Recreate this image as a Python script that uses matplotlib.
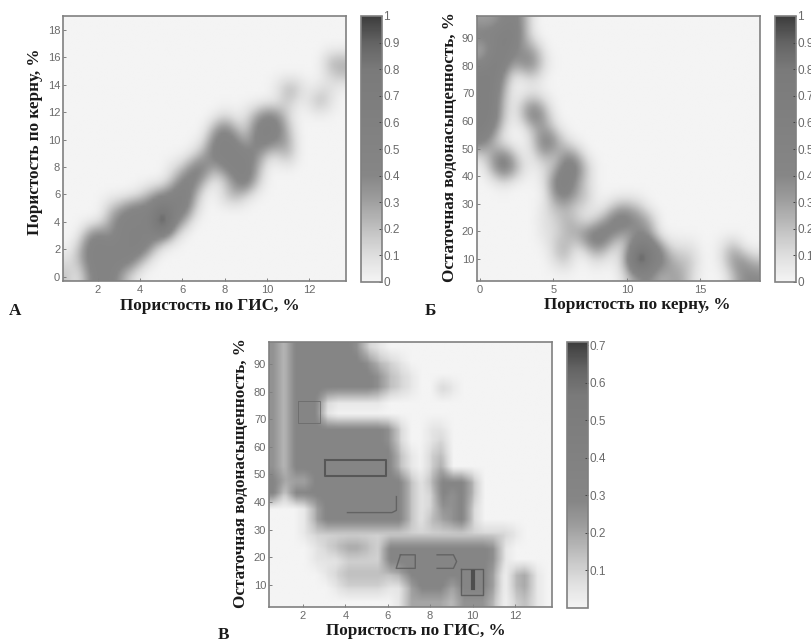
# Three density maps of porosity / water saturation
import matplotlib
matplotlib.use('Agg')
import matplotlib.pyplot as plt
import numpy as np
from matplotlib.colors import LinearSegmentedColormap

W, H = 812, 641
SERIF = 'Liberation Serif'
SANS = 'Liberation Sans'
TICK_GREY = '#6a6a6a'
FRAME_GREY = '#808080'

# density grids, one hex digit per cell, top row first, short rows end in zeros
a_rows = [
    "",
    "",
    "",
    "00000 00000 00000 00000 00000 33",
    "00000 00000 00000 00000 00000 12",
    "00000 00000 00000 00000 13201 1",
    "00000 00000 00000 00000 02013 1",
    "00000 00000 00000 10135 41000",
    "00000 00000 00003 52155 52000",
    "00000 00000 00015 55255 43000",
    "00000 00000 00135 55541 13000",
    "00000 00000 12552 55530",
    "00000 00000 25520 14620",
    "00000 00134 56300 23100",
    "00002 35558 56200",
    "00003 5555f 53000",
    "00453 55555 20000",
    "02555 55630",
    "12555 55200",
    "20455 31000",
]
b_rows = [
    "33453",
    "55663",
    "24643 30000",
    "46635 41000",
    "66401 20000",
    "66300",
    "66202 31000",
    "66203 63000",
    "65100 23100",
    "52000 26410",
    "13520 13143",
    "03641 01265 20000",
    "00100 01563 10000",
    "00000 00453 20000",
    "00000 01221 10133 20000",
    "00000 01132 02465 43000",
    "00000 01123 56532 43000",
    "00000 00230 24203 87411 10013",
    "00000 00120 01014 f7532 20014 42",
    "00000 00000 00002 34233 10002 44",
]
c_rows = [
    "53666 66652 1",
    "53666 66665 3210",
    "53666 66666 53210",
    "53666 66666 53210 02100",
    "53666 21111 1",
    "53666 10000",
    "53666 66666 65200 11",
    "53666 66666 65200 12",
    "53666 66666 66310 23",
    "53666 66666 66310 24",
    "64446 66666 66631 36663",
    "62666 66666 66631 26563",
    "00014 66666 66631 25562",
    "00014 66666 66631 34562",
    "00012 22222 22222 22222 22210",
    "00001 23443 26666 66666 65100",
    "00001 11222 26666 66666 65100",
    "00000 12333 33466 66666 64034 1",
    "00000 01222 21146 66466 64034 1",
    "00000 00000 00144 44355 53023 1",
]
a_scale, b_scale, c_scale = 0.1, 0.1, 0.05

# dark iso-lines of the lower map, in axis units
c_ring1_x = [3.02, 5.94, 5.94, 3.02, 3.02]
c_ring1_y = [55.1, 55.1, 49.3, 49.3, 55.1]
c_ring2_x = [6.41, 6.41, 6.2, 4.1]
c_ring2_y = [42.0, 37.0, 36.2, 36.2]
c_ring3_x = [1.76, 2.79, 2.79, 1.76, 1.76]
c_ring3_y = [76.5, 76.5, 68.6, 68.6, 76.5]
c_ring4_x = [6.6, 7.3, 7.3, 6.4, 6.6]
c_ring4_y = [20.9, 20.9, 16.0, 16.0, 20.9]
c_ring5_x = [8.33, 9.1, 9.25, 9.1, 8.33]
c_ring5_y = [20.9, 20.9, 18.5, 16.0, 16.0]
c_ring6_x = [9.48, 10.5, 10.5, 9.48, 9.48]
c_ring6_y = [15.7, 15.7, 6.4, 6.4, 15.7]
c_spot_x = [10.0, 10.0]
c_spot_y = [9.0, 14.5]

a_xticks = [2, 4, 6, 8, 10, 12]
a_yticks = [0, 2, 4, 6, 8, 10, 12, 14, 16, 18]
b_xticks = [0, 5, 10, 15]
sw_yticks = [10, 20, 30, 40, 50, 60, 70, 80, 90]
c_xticks = [2, 4, 6, 8, 10, 12]
cb_ticks = [0, 0.1, 0.2, 0.3, 0.4, 0.5, 0.6, 0.7, 0.8, 0.9, 1]
cb_labels = ['0', '0.1', '0.2', '0.3', '0.4', '0.5', '0.6', '0.7', '0.8', '0.9', '1']
c_cb_ticks = [0.1, 0.2, 0.3, 0.4, 0.5, 0.6, 0.7]
c_cb_labels = ['0.1', '0.2', '0.3', '0.4', '0.5', '0.6', '0.7']

xlabel_gis = 'Пористость по ГИС, %'
xlabel_core = 'Пористость по керну, %'
ylabel_sw = 'Остаточная водонасыщенность, %'

# grey levels seen on the colorbars
grey = LinearSegmentedColormap.from_list('grey_map', [
    (0.0, '#f4f4f4'), (0.1, '#dedede'), (0.2, '#c0c0c0'), (0.3, '#a0a0a0'),
    (0.4, '#868686'), (0.8, '#7a7a7a'), (0.9, '#646464'), (1.0, '#3c3c3c')])


def parse(rows, scale):
    cells = [r.replace(' ', '').ljust(27, '0') for r in rows]
    return np.array([[int(c, 16) for c in r] for r in cells]) * scale


def soften(data, passes):
    # 4x finer grid, then repeated box blur so the blobs have soft edges
    fine = np.kron(data, np.ones((4, 4)))
    kernel = np.ones(5) / 5
    for i in range(passes):
        for axis in (0, 1):
            pad = [(2, 2) if k == axis else (0, 0) for k in range(2)]
            padded = np.pad(fine, pad, mode='edge')
            fine = np.apply_along_axis(lambda v: np.convolve(v, kernel, mode='valid'), axis, padded)
    return fine


def box(left, top, right, bottom):
    # pixel box to figure fractions
    return [left / W, 1 - bottom / H, (right - left) / W, (bottom - top) / H]


def panel(fig, data, extent, vmax, px, cb_px, xticks, yticks, ticks, labels):
    ax = fig.add_axes(box(*px))
    im = ax.imshow(data, extent=extent, aspect='auto', cmap=grey, vmin=0, vmax=vmax,
                   interpolation='bilinear')
    ax.set_xticks(xticks)
    ax.set_yticks(yticks)
    for s in ax.spines.values():
        s.set_color(FRAME_GREY)
        s.set_linewidth(1.2)
    ax.tick_params(labelsize=8, labelcolor=TICK_GREY, color=FRAME_GREY, length=2,
                   direction='in', width=0.7)
    ax.tick_params(axis='x', pad=3)
    ax.tick_params(axis='y', pad=2)
    for t in ax.get_xticklabels() + ax.get_yticklabels():
        t.set_fontfamily(SANS)
    cax = fig.add_axes(box(*cb_px))
    cb = fig.colorbar(im, cax=cax)
    cb.set_ticks(ticks)
    cb.set_ticklabels(labels)
    cb.outline.set_edgecolor(FRAME_GREY)
    cb.outline.set_linewidth(1.2)
    cax.tick_params(labelsize=8.5, labelcolor=TICK_GREY, color='#444444', length=2,
                    direction='in', pad=1, width=0.7)
    for t in cax.get_yticklabels():
        t.set_fontfamily(SANS)
    return ax


def label(fig, x, y, s, size=12.3, rotation=0):
    fig.text(x / W, 1 - y / H, s, family=SERIF, weight='bold', fontsize=size, color='#1a1a1a',
             ha='center', va='center', rotation=rotation)


if __name__ == '__main__':
    fig = plt.figure(figsize=(W / 100, H / 100), dpi=100)

    panel(fig, soften(parse(a_rows, a_scale), 3), (0.34, 13.75, -0.3, 19), 1.0,
          (63, 16, 346, 281), (361, 16, 382, 282), a_xticks, a_yticks, cb_ticks, cb_labels)
    panel(fig, soften(parse(b_rows, b_scale), 3), (-0.2, 19.05, 2, 98), 1.0,
          (477, 16, 760, 281), (775, 16, 796, 282), b_xticks, sw_yticks, cb_ticks, cb_labels)
    ax_c = panel(fig, soften(parse(c_rows, c_scale), 1), (0.4, 13.75, 2, 98), 0.708,
                 (269, 342, 552, 607), (567, 342, 588, 608), c_xticks, sw_yticks,
                 c_cb_ticks, c_cb_labels)

    rounded = dict(solid_joinstyle='round', alpha=0.75)
    ax_c.plot(c_ring1_x, c_ring1_y, color='#484848', lw=1.5, **rounded)
    ax_c.plot(c_ring2_x, c_ring2_y, color='#585858', lw=1.0, **rounded)
    ax_c.plot(c_ring3_x, c_ring3_y, color='#686868', lw=0.7, **rounded)
    ax_c.plot(c_ring4_x, c_ring4_y, color='#585858', lw=1.0, **rounded)
    ax_c.plot(c_ring5_x, c_ring5_y, color='#585858', lw=1.0, **rounded)
    ax_c.plot(c_ring6_x, c_ring6_y, color='#505050', lw=1.0, **rounded)
    ax_c.plot(c_spot_x, c_spot_y, color='#3c3c3c', lw=3, **rounded)

    label(fig, 210, 306, xlabel_gis)
    label(fig, 637.5, 305, xlabel_core)
    label(fig, 415.5, 631, xlabel_gis)
    label(fig, 35, 142, xlabel_core, rotation=90)
    label(fig, 450, 147, ylabel_sw, rotation=90)
    label(fig, 241, 473, ylabel_sw, rotation=90)
    label(fig, 15.5, 311, 'А')
    label(fig, 430, 311, 'Б')
    label(fig, 223, 635, 'В')

    fig.savefig('out.png', dpi=100)
